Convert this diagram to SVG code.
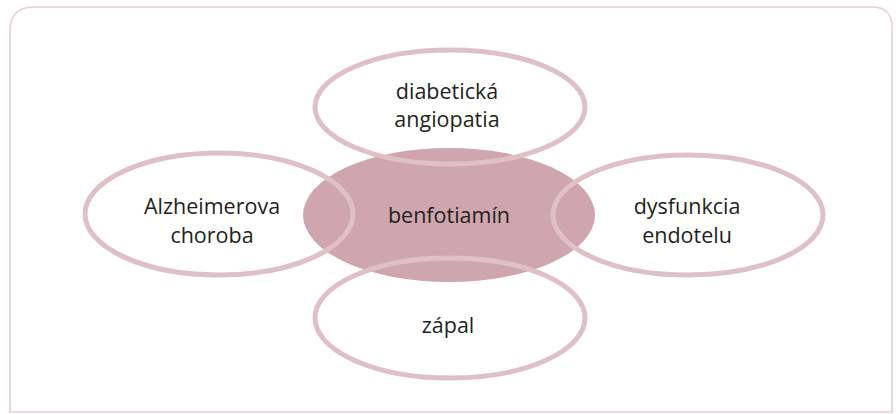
<svg xmlns="http://www.w3.org/2000/svg" width="896" height="414" viewBox="0 0 896 414">
<style>
.frame{fill:#ffffff;stroke:#e8cdd5;stroke-width:1.6}
.core{fill:#cfa5ae}
.ring{fill:none;stroke:#dfc0c7;stroke-width:5}
.t{font-family:"Open Sans","Noto Sans","Liberation Sans",sans-serif;font-size:21.5px;fill:#231f20;text-anchor:middle}
</style>
<rect width="896" height="414" fill="#ffffff"/>
<path class="frame" d="M10,412 L10,31 Q10,7 34,7 L872,7 Q892,7 892,27 L892,412 Z"/>
<g id="node-benfotiamin">
<ellipse class="core" cx="449" cy="215" rx="146" ry="67"/>
<text class="t" x="449" y="223">benfotiamín</text>
</g>
<g id="connectors"></g>
<g id="node-diabeticka">
<ellipse class="ring" cx="450" cy="107" rx="135" ry="57"/>
<text class="t" x="447" y="99">diabetická</text>
<text class="t" x="447" y="127">angiopatia</text>
</g>
<g id="node-alzheimer">
<ellipse class="ring" cx="219" cy="214" rx="134" ry="61"/>
<text class="t" x="212" y="214">Alzheimerova</text>
<text class="t" x="212" y="243">choroba</text>
</g>
<g id="node-dysfunkcia">
<ellipse class="ring" cx="688" cy="215" rx="135" ry="60"/>
<text class="t" x="687" y="214">dysfunkcia</text>
<text class="t" x="687" y="243">endotelu</text>
</g>
<g id="node-zapal">
<ellipse class="ring" cx="450" cy="318" rx="135" ry="60"/>
<text class="t" x="448" y="333">zápal</text>
</g>
</svg>
